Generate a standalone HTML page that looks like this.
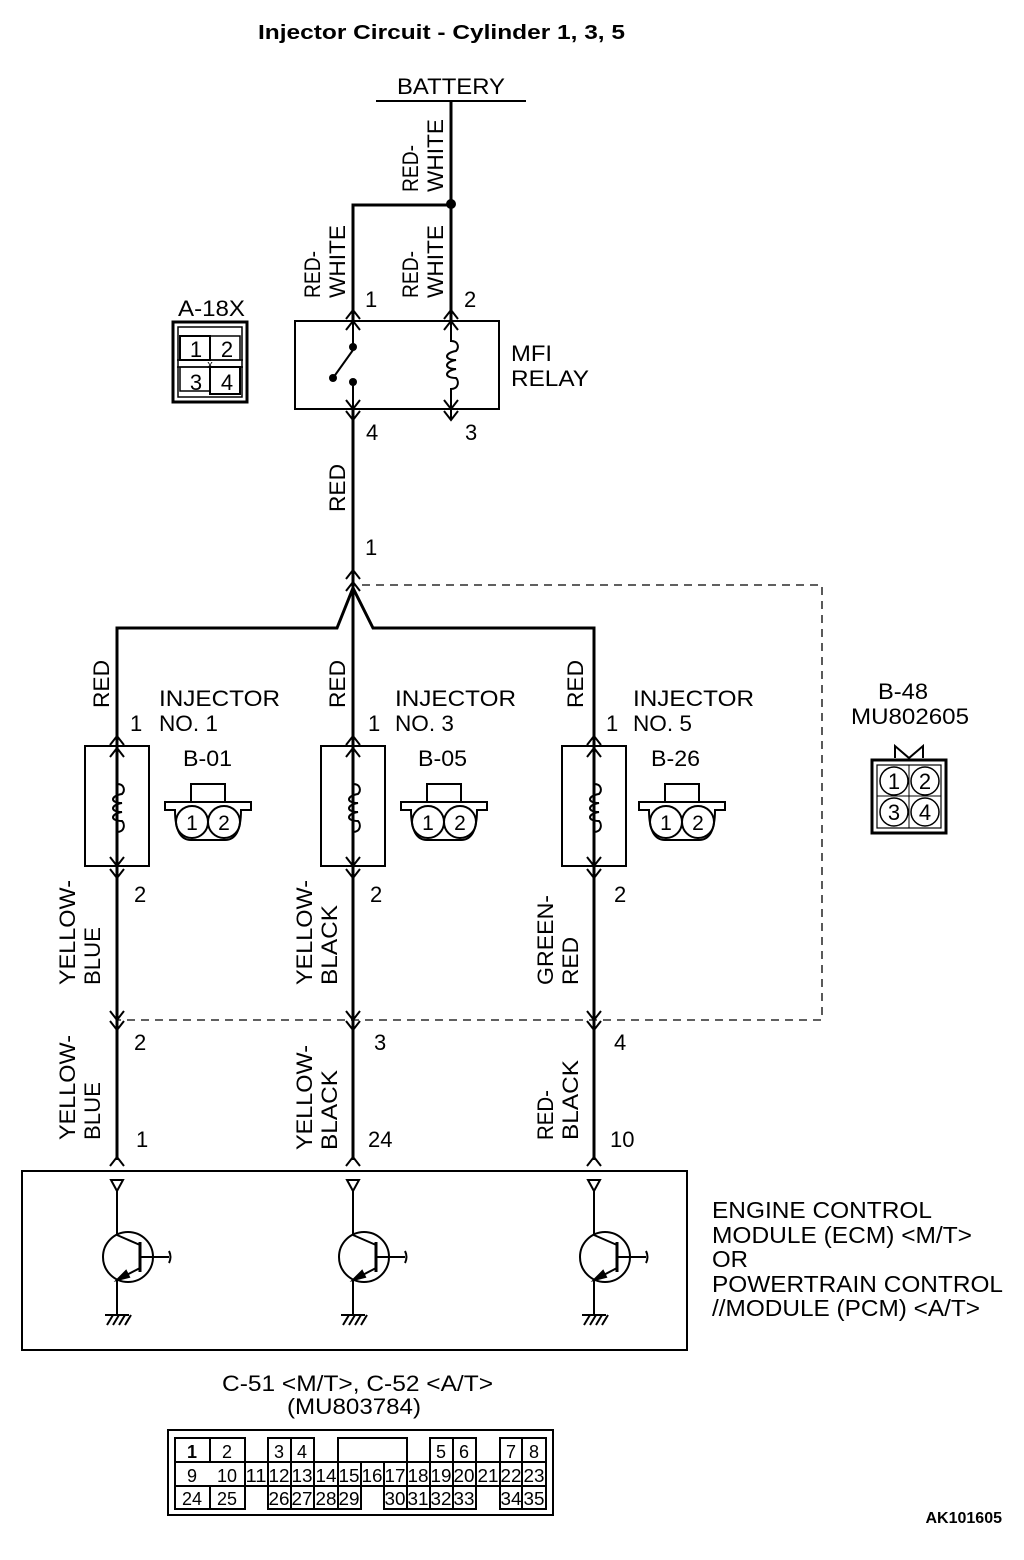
<!DOCTYPE html>
<html><head><meta charset="utf-8"><style>
html,body{margin:0;padding:0;background:#fff;}
svg{display:block;}
text{font-family:"Liberation Sans",Arial,sans-serif;fill:#000;}
</style></head><body>
<svg width="1024" height="1560" viewBox="0 0 1024 1560" xmlns="http://www.w3.org/2000/svg">
<defs>
<g id="up"><polyline points="-7,9 0,0 7,9" fill="none" stroke="#000" stroke-width="2"/></g>
<g id="dn"><polyline points="-7,-9 0,0 7,-9" fill="none" stroke="#000" stroke-width="2"/></g>
<g id="coil" fill="none" stroke="#000" stroke-width="2">
<path d="M0,-24 C8,-24 8,-17 5,-14 C-7,-12 -7,-5 5,-5 C-7,-3 -7,4 5,4 C-7,6 -7,13 5,13 C8,16 8,24 0,24"/>
</g>
<g id="tr" fill="none" stroke="#000" stroke-width="2">
<polygon points="-6,0 6,0 0,11"/>
<line x1="0" y1="11" x2="0" y2="55"/>
<circle cx="11" cy="77" r="25"/>
<line x1="0" y1="55" x2="23" y2="65"/>
<line x1="23" y1="62" x2="23" y2="92" stroke-width="3"/>
<line x1="23" y1="77" x2="52" y2="77"/>
<path d="M52,71 Q55,77 52,83"/>
<line x1="23" y1="88" x2="0" y2="100"/>
<polygon points="0,100 9,91 12,97" fill="#000"/>
<line x1="0" y1="100" x2="0" y2="135"/>
<line x1="-12" y1="135" x2="12" y2="135"/>
<line x1="-10" y1="145" x2="-4" y2="135"/><line x1="-4" y1="145" x2="2" y2="135"/><line x1="2" y1="145" x2="8" y2="135"/><line x1="8" y1="145" x2="14" y2="135"/>
</g>
<g id="inj">
<rect x="-32" y="0" width="64" height="120" fill="none" stroke="#000" stroke-width="2"/>
<line x1="0" y1="-8" x2="0" y2="38" stroke="#000" stroke-width="2"/>
<line x1="0" y1="86" x2="0" y2="130" stroke="#000" stroke-width="2"/>
<use href="#coil" x="0" y="62"/>
<use href="#up" x="0" y="-10"/><use href="#up" x="0" y="2"/>
<use href="#dn" x="0" y="120"/><use href="#dn" x="0" y="132"/>
</g>
<g id="con2" fill="none" stroke="#000" stroke-width="2">
<rect x="26" y="0" width="34" height="18"/>
<path d="M0,18 H86 V26 H76 Q76,56 60,56 H26 Q10,56 10,26 H0 Z" fill="#fff"/>
<circle cx="27" cy="38" r="16"/><circle cx="59" cy="38" r="16"/>
</g>
</defs>

<text x="258" y="39" font-size="20" font-weight="bold" textLength="367" lengthAdjust="spacingAndGlyphs">Injector Circuit - Cylinder 1, 3, 5</text>

<g stroke="#000" stroke-width="3" fill="none">
<line x1="376" y1="101" x2="526" y2="101" stroke-width="2"/>
<line x1="451" y1="101" x2="451" y2="320"/>
<polyline points="353,320 353,205 451,205"/>
<line x1="353" y1="409" x2="353" y2="588"/>
<polyline points="117,1160 117,628 337,628 353,588 373,628 594,628 594,1160"/>
<line x1="353" y1="588" x2="353" y2="1160"/>
</g>
<circle cx="451" cy="204" r="5"/>
<polyline points="362,585 822,585 822,1020 117,1020" fill="none" stroke="#000" stroke-width="1.3" stroke-dasharray="8,6"/>

<text x="397" y="94" font-size="22" textLength="108" lengthAdjust="spacingAndGlyphs">BATTERY</text>
<g font-size="22" lengthAdjust="spacingAndGlyphs">
<text transform="translate(418,192) rotate(-90)" textLength="47" lengthAdjust="spacingAndGlyphs">RED-</text>
<text transform="translate(443,192) rotate(-90)" textLength="73" lengthAdjust="spacingAndGlyphs">WHITE</text>
<text transform="translate(320,298) rotate(-90)" textLength="47" lengthAdjust="spacingAndGlyphs">RED-</text>
<text transform="translate(345,298) rotate(-90)" textLength="73" lengthAdjust="spacingAndGlyphs">WHITE</text>
<text transform="translate(418,298) rotate(-90)" textLength="47" lengthAdjust="spacingAndGlyphs">RED-</text>
<text transform="translate(443,298) rotate(-90)" textLength="73" lengthAdjust="spacingAndGlyphs">WHITE</text>
<text transform="translate(345,512) rotate(-90)" textLength="48" lengthAdjust="spacingAndGlyphs">RED</text>
<text transform="translate(109,708) rotate(-90)" textLength="48" lengthAdjust="spacingAndGlyphs">RED</text>
<text transform="translate(345,708) rotate(-90)" textLength="48" lengthAdjust="spacingAndGlyphs">RED</text>
<text transform="translate(583,708) rotate(-90)" textLength="48" lengthAdjust="spacingAndGlyphs">RED</text>
<text transform="translate(75,985) rotate(-90)" textLength="105" lengthAdjust="spacingAndGlyphs">YELLOW-</text>
<text transform="translate(100,985) rotate(-90)" textLength="58" lengthAdjust="spacingAndGlyphs">BLUE</text>
<text transform="translate(312,985) rotate(-90)" textLength="105" lengthAdjust="spacingAndGlyphs">YELLOW-</text>
<text transform="translate(337,985) rotate(-90)" textLength="80" lengthAdjust="spacingAndGlyphs">BLACK</text>
<text transform="translate(553,985) rotate(-90)" textLength="90" lengthAdjust="spacingAndGlyphs">GREEN-</text>
<text transform="translate(578,985) rotate(-90)" textLength="48" lengthAdjust="spacingAndGlyphs">RED</text>
<text transform="translate(75,1140) rotate(-90)" textLength="105" lengthAdjust="spacingAndGlyphs">YELLOW-</text>
<text transform="translate(100,1140) rotate(-90)" textLength="58" lengthAdjust="spacingAndGlyphs">BLUE</text>
<text transform="translate(312,1150) rotate(-90)" textLength="105" lengthAdjust="spacingAndGlyphs">YELLOW-</text>
<text transform="translate(337,1150) rotate(-90)" textLength="80" lengthAdjust="spacingAndGlyphs">BLACK</text>
<text transform="translate(553,1140) rotate(-90)" textLength="50" lengthAdjust="spacingAndGlyphs">RED-</text>
<text transform="translate(578,1140) rotate(-90)" textLength="80" lengthAdjust="spacingAndGlyphs">BLACK</text>
</g>

<!-- relay -->
<rect x="295" y="321" width="204" height="88" fill="none" stroke="#000" stroke-width="2"/>
<g stroke="#000" stroke-width="2" fill="none">
<line x1="353" y1="310" x2="353" y2="345"/>
<line x1="353" y1="350" x2="333" y2="378"/>
<line x1="353" y1="384" x2="353" y2="420"/>
<line x1="451" y1="310" x2="451" y2="342"/>
<line x1="451" y1="388" x2="451" y2="420"/>
</g>
<circle cx="353" cy="347" r="4"/><circle cx="333" cy="378" r="4"/><circle cx="353" cy="382" r="4"/>
<use href="#coil" x="451" y="365"/>
<use href="#up" x="353" y="310"/><use href="#up" x="353" y="321"/>
<use href="#up" x="451" y="310"/><use href="#up" x="451" y="321"/>
<use href="#dn" x="353" y="409"/><use href="#dn" x="353" y="420"/>
<use href="#dn" x="451" y="409"/><use href="#dn" x="451" y="420"/>
<g font-size="22">
<text x="365" y="307">1</text><text x="464" y="307">2</text>
<text x="366" y="440">4</text><text x="465" y="440">3</text>
<text x="511" y="361" textLength="41" lengthAdjust="spacingAndGlyphs">MFI</text><text x="511" y="386" textLength="78" lengthAdjust="spacingAndGlyphs">RELAY</text>
<text x="365" y="555">1</text>
</g>
<use href="#up" x="353" y="570"/><use href="#up" x="353" y="582"/>

<!-- A-18X -->
<text x="178" y="316" font-size="22" textLength="67" lengthAdjust="spacingAndGlyphs">A-18X</text>
<g fill="none" stroke="#000">
<rect x="173" y="322" width="74" height="80" stroke-width="3"/>
<rect x="178" y="327" width="64" height="70" stroke-width="1.5"/>
<rect x="180" y="336" width="30" height="24" stroke-width="2"/>
<rect x="210" y="336" width="30" height="24" stroke-width="1.5"/>
<rect x="180" y="367" width="30" height="24" stroke-width="1.5"/>
<rect x="210" y="367" width="30" height="27" stroke-width="2"/>
<line x1="177" y1="360" x2="243" y2="360" stroke-width="1.5"/>
<line x1="177" y1="367" x2="243" y2="367" stroke-width="1.5"/>
</g>
<g font-size="22" text-anchor="middle">
<text x="196" y="357">1</text><text x="227" y="357">2</text>
<text x="196" y="390">3</text><text x="227" y="390">4</text>
<text x="210" y="368" font-size="11">x</text>
</g>

<!-- injectors -->
<use href="#inj" x="117" y="746"/>
<use href="#inj" x="353" y="746"/>
<use href="#inj" x="594" y="746"/>
<use href="#con2" x="165" y="784"/>
<use href="#con2" x="401" y="784"/>
<use href="#con2" x="639" y="784"/>
<g font-size="22">
<text x="159" y="706" textLength="121" lengthAdjust="spacingAndGlyphs">INJECTOR</text><text x="159" y="731" textLength="59" lengthAdjust="spacingAndGlyphs">NO. 1</text>
<text x="395" y="706" textLength="121" lengthAdjust="spacingAndGlyphs">INJECTOR</text><text x="395" y="731" textLength="59" lengthAdjust="spacingAndGlyphs">NO. 3</text>
<text x="633" y="706" textLength="121" lengthAdjust="spacingAndGlyphs">INJECTOR</text><text x="633" y="731" textLength="59" lengthAdjust="spacingAndGlyphs">NO. 5</text>
<text x="130" y="731">1</text><text x="368" y="731">1</text><text x="606" y="731">1</text>
<text x="183" y="766" textLength="49" lengthAdjust="spacingAndGlyphs">B-01</text><text x="418" y="766" textLength="49" lengthAdjust="spacingAndGlyphs">B-05</text><text x="651" y="766" textLength="49" lengthAdjust="spacingAndGlyphs">B-26</text>
<text x="134" y="902">2</text><text x="370" y="902">2</text><text x="614" y="902">2</text>
<text x="134" y="1050">2</text><text x="374" y="1050">3</text><text x="614" y="1050">4</text>
<text x="136" y="1147">1</text><text x="368" y="1147">24</text><text x="610" y="1147">10</text>
</g>
<g font-size="21" text-anchor="middle">
<text x="192" y="830">1</text><text x="224" y="830">2</text>
<text x="428" y="830">1</text><text x="460" y="830">2</text>
<text x="666" y="830">1</text><text x="698" y="830">2</text>
</g>
<use href="#dn" x="117" y="1020"/><use href="#dn" x="117" y="1030"/>
<use href="#dn" x="353" y="1020"/><use href="#dn" x="353" y="1030"/>
<use href="#dn" x="594" y="1020"/><use href="#dn" x="594" y="1030"/>
<use href="#up" x="117" y="1157"/><use href="#up" x="353" y="1157"/><use href="#up" x="594" y="1157"/>

<!-- B-48 -->
<text x="878" y="699" font-size="22" textLength="50" lengthAdjust="spacingAndGlyphs">B-48</text>
<text x="851" y="724" font-size="22" textLength="118" lengthAdjust="spacingAndGlyphs">MU802605</text>
<g fill="none" stroke="#000">
<polyline points="895,758 895,746 909,758 923,746 923,758" stroke-width="2"/>
<rect x="872" y="760" width="74" height="73" stroke-width="3"/>
<rect x="877" y="765" width="64" height="63" stroke-width="1.2"/>
<line x1="909" y1="765" x2="909" y2="828" stroke-width="1"/>
<line x1="877" y1="796" x2="941" y2="796" stroke-width="1"/>
<circle cx="894" cy="781" r="14" stroke-width="1.5"/><circle cx="925" cy="781" r="14" stroke-width="1.5"/>
<circle cx="894" cy="812" r="14" stroke-width="1.5"/><circle cx="925" cy="812" r="14" stroke-width="1.5"/>
</g>
<g font-size="22" text-anchor="middle">
<text x="894" y="789">1</text><text x="925" y="789">2</text>
<text x="894" y="820">3</text><text x="925" y="820">4</text>
</g>

<!-- ECM -->
<rect x="22" y="1171" width="665" height="179" fill="none" stroke="#000" stroke-width="2"/>
<use href="#tr" x="117" y="1180"/>
<use href="#tr" x="353" y="1180"/>
<use href="#tr" x="594" y="1180"/>
<g font-size="23">
<text x="712" y="1218" textLength="220" lengthAdjust="spacingAndGlyphs">ENGINE CONTROL</text>
<text x="712" y="1243" textLength="260" lengthAdjust="spacingAndGlyphs">MODULE (ECM) &lt;M/T&gt;</text>
<text x="712" y="1267" textLength="36" lengthAdjust="spacingAndGlyphs">OR</text>
<text x="712" y="1292" textLength="291" lengthAdjust="spacingAndGlyphs">POWERTRAIN CONTROL</text>
<text x="712" y="1316" textLength="268" lengthAdjust="spacingAndGlyphs">//MODULE (PCM) &lt;A/T&gt;</text>
</g>
<text x="222" y="1391" font-size="22" textLength="271" lengthAdjust="spacingAndGlyphs">C-51 &lt;M/T&gt;, C-52 &lt;A/T&gt;</text>
<text x="287" y="1414" font-size="22" textLength="134" lengthAdjust="spacingAndGlyphs">(MU803784)</text>

<!-- connector table -->
<rect x="168" y="1430" width="385" height="85" fill="none" stroke="#000" stroke-width="2"/>
<g fill="none" stroke="#000" stroke-width="2">
<rect x="175" y="1438" width="35" height="24"/><rect x="210" y="1438" width="35" height="24"/>
<rect x="268" y="1438" width="23" height="24"/><rect x="291" y="1438" width="23" height="24"/>
<rect x="338" y="1438" width="69" height="24"/>
<rect x="430" y="1438" width="23" height="24"/><rect x="453" y="1438" width="23" height="24"/>
<rect x="500" y="1438" width="22" height="24"/><rect x="522" y="1438" width="24" height="24"/>
<rect x="175" y="1462" width="371" height="24"/>
<path d="M245,1462V1486M268,1462V1486M291,1462V1486M314,1462V1486M338,1462V1486M361,1462V1486M384,1462V1486M407,1462V1486M430,1462V1486M453,1462V1486M476,1462V1486M500,1462V1486M522,1462V1486"/>
<rect x="175" y="1486" width="35" height="23"/><rect x="210" y="1486" width="35" height="23"/>
<rect x="268" y="1486" width="23" height="23"/><rect x="291" y="1486" width="23" height="23"/><rect x="314" y="1486" width="24" height="23"/><rect x="338" y="1486" width="23" height="23"/>
<rect x="384" y="1486" width="23" height="23"/><rect x="407" y="1486" width="23" height="23"/><rect x="430" y="1486" width="23" height="23"/><rect x="453" y="1486" width="23" height="23"/>
<rect x="500" y="1486" width="22" height="23"/><rect x="522" y="1486" width="24" height="23"/>
</g>
<g font-size="18" text-anchor="middle">
<text x="192" y="1458" font-weight="bold">1</text><text x="227" y="1458">2</text><text x="279" y="1458">3</text><text x="302" y="1458">4</text>
<text x="441" y="1458">5</text><text x="464" y="1458">6</text><text x="511" y="1458">7</text><text x="534" y="1458">8</text>
<text x="192" y="1482">9</text><text x="227" y="1482">10</text><text x="256" y="1482" textLength="21" lengthAdjust="spacingAndGlyphs">11</text><text x="279" y="1482" textLength="21" lengthAdjust="spacingAndGlyphs">12</text><text x="302" y="1482" textLength="21" lengthAdjust="spacingAndGlyphs">13</text><text x="326" y="1482" textLength="21" lengthAdjust="spacingAndGlyphs">14</text><text x="349" y="1482" textLength="21" lengthAdjust="spacingAndGlyphs">15</text><text x="372" y="1482" textLength="21" lengthAdjust="spacingAndGlyphs">16</text><text x="395" y="1482" textLength="21" lengthAdjust="spacingAndGlyphs">17</text><text x="418" y="1482" textLength="21" lengthAdjust="spacingAndGlyphs">18</text><text x="441" y="1482" textLength="21" lengthAdjust="spacingAndGlyphs">19</text><text x="464" y="1482" textLength="21" lengthAdjust="spacingAndGlyphs">20</text><text x="488" y="1482" textLength="21" lengthAdjust="spacingAndGlyphs">21</text><text x="511" y="1482" textLength="21" lengthAdjust="spacingAndGlyphs">22</text><text x="534" y="1482" textLength="21" lengthAdjust="spacingAndGlyphs">23</text>
<text x="192" y="1505">24</text><text x="227" y="1505">25</text><text x="279" y="1505" textLength="21" lengthAdjust="spacingAndGlyphs">26</text><text x="302" y="1505" textLength="21" lengthAdjust="spacingAndGlyphs">27</text><text x="326" y="1505" textLength="21" lengthAdjust="spacingAndGlyphs">28</text><text x="349" y="1505" textLength="21" lengthAdjust="spacingAndGlyphs">29</text><text x="395" y="1505" textLength="21" lengthAdjust="spacingAndGlyphs">30</text><text x="418" y="1505" textLength="21" lengthAdjust="spacingAndGlyphs">31</text><text x="441" y="1505" textLength="21" lengthAdjust="spacingAndGlyphs">32</text><text x="464" y="1505" textLength="21" lengthAdjust="spacingAndGlyphs">33</text><text x="511" y="1505" textLength="21" lengthAdjust="spacingAndGlyphs">34</text><text x="534" y="1505" textLength="21" lengthAdjust="spacingAndGlyphs">35</text>
</g>
<text x="1002" y="1523" font-size="16" font-weight="bold" text-anchor="end">AK101605</text>
</svg>
</body></html>
